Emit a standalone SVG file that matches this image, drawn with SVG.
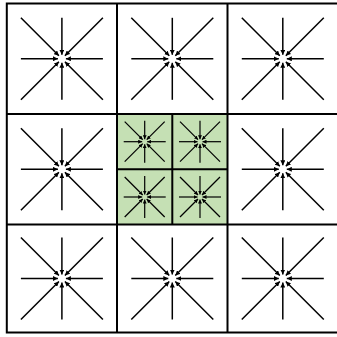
<svg xmlns="http://www.w3.org/2000/svg" xmlns:xlink="http://www.w3.org/1999/xlink" width="337" height="337" viewBox="0 0 337 337">
<style>
.grid{fill:none;stroke:#000;stroke-width:2}
.ray{stroke:#000;stroke-width:1.5;fill:none}
.rays{stroke:#000;stroke-width:1.2;fill:none}
</style>
<defs>
<marker id="ah" viewBox="0 0 10 10" refX="10" refY="5" markerUnits="userSpaceOnUse" markerWidth="5" markerHeight="5" orient="auto">
<path d="M0,0 L10,5 L0,10 z" fill="#000"/>
</marker>
<marker id="ahs" viewBox="0 0 10 10" refX="10" refY="5" markerUnits="userSpaceOnUse" markerWidth="4" markerHeight="4" orient="auto">
<path d="M0,0 L10,5 L0,10 z" fill="#000"/>
</marker>
<g id="big" class="ray" marker-end="url(#ah)">
<line x1="-41" y1="0" x2="-4" y2="0"/>
<line x1="41" y1="0" x2="4" y2="0"/>
<line x1="0" y1="-41" x2="0" y2="-4"/>
<line x1="0" y1="41" x2="0" y2="4"/>
<line x1="-41" y1="-41" x2="-3" y2="-3"/>
<line x1="41" y1="-41" x2="3" y2="-3"/>
<line x1="-41" y1="41" x2="-3" y2="3"/>
<line x1="41" y1="41" x2="3" y2="3"/>
</g>
<g id="small" class="rays" marker-end="url(#ahs)">
<line x1="-21" y1="0" x2="-2.5" y2="0"/>
<line x1="21" y1="0" x2="2.5" y2="0"/>
<line x1="0" y1="-21" x2="0" y2="-2.5"/>
<line x1="0" y1="21" x2="0" y2="2.5"/>
<line x1="-20" y1="-20" x2="-2" y2="-2"/>
<line x1="20" y1="-20" x2="2" y2="-2"/>
<line x1="-20" y1="20" x2="-2" y2="2"/>
<line x1="20" y1="20" x2="2" y2="2"/>
</g>
</defs>
<g id="center-cell">
<rect x="117" y="114" width="110.5" height="110.5" fill="#c5e0b4"/>
<line class="grid" x1="172.3" y1="114" x2="172.3" y2="224.5"/>
<line class="grid" x1="117" y1="169.3" x2="227.5" y2="169.3"/>
<use xlink:href="#small" transform="translate(144.7,141.7)"/>
<use xlink:href="#small" transform="translate(200,141.7)"/>
<use xlink:href="#small" transform="translate(144.7,197)"/>
<use xlink:href="#small" transform="translate(200,197)"/>
</g>
<g id="grid">
<rect class="grid" x="6.8" y="3.5" width="332" height="329"/>
<line class="grid" x1="6.8" y1="114" x2="338" y2="114"/>
<line class="grid" x1="6.8" y1="224.5" x2="338" y2="224.5"/>
<line class="grid" x1="117" y1="3.5" x2="117" y2="332.5"/>
<line class="grid" x1="227.5" y1="3.5" x2="227.5" y2="332.5"/>
</g>
<g id="cell-1"><use xlink:href="#big" transform="translate(61.9,58.8)"/></g>
<g id="cell-2"><use xlink:href="#big" transform="translate(172.3,58.8)"/></g>
<g id="cell-3"><use xlink:href="#big" transform="translate(282.8,58.8)"/></g>
<g id="cell-4"><use xlink:href="#big" transform="translate(61.9,169.3)"/></g>
<g id="cell-6"><use xlink:href="#big" transform="translate(282.8,169.3)"/></g>
<g id="cell-7"><use xlink:href="#big" transform="translate(61.9,278.5)"/></g>
<g id="cell-8"><use xlink:href="#big" transform="translate(172.3,278.5)"/></g>
<g id="cell-9"><use xlink:href="#big" transform="translate(282.8,278.5)"/></g>
</svg>
